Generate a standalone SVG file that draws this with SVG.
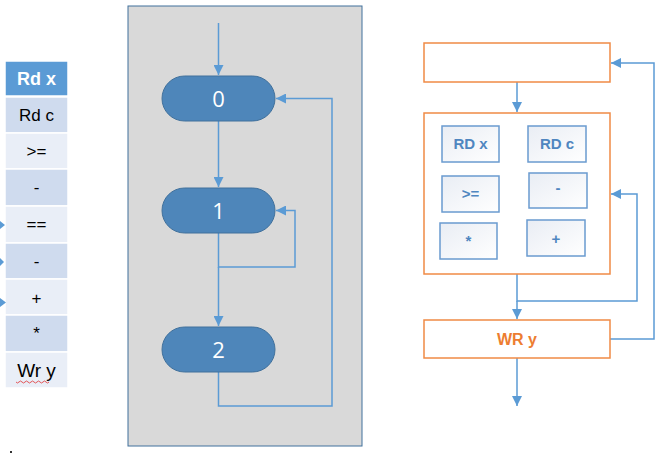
<svg xmlns="http://www.w3.org/2000/svg" width="663" height="454" viewBox="0 0 663 454">
<defs>
<marker id="ah" viewBox="0 0 10 10" refX="10" refY="5" markerWidth="10" markerHeight="10" markerUnits="userSpaceOnUse" orient="auto">
<path d="M0,0 L10,5 L0,10 Z" fill="#5B9BD5"/>
</marker>
<linearGradient id="ig" x1="0" y1="0" x2="1" y2="1">
<stop offset="0" stop-color="#E9EDF4"/>
<stop offset="1" stop-color="#FFFFFF"/>
</linearGradient>
</defs>
<style>
.cell{stroke:#FFFFFF;stroke-width:1.5}
.dk{fill:#CFDBEE}
.lt{fill:#E9EEF7}
.ct{font-family:"Liberation Sans",Arial,sans-serif;font-size:17px;fill:#000;text-anchor:middle}
.pill{fill:#4E86BA;stroke:#41719C;stroke-width:1}
.pt{font-family:"Open Sans","Liberation Sans",sans-serif;font-size:22px;fill:#FFFFFF;text-anchor:middle}
.con{fill:none;stroke:#5B9BD5;stroke-width:1.5}
.ob{fill:#FFFFFF;stroke:#F08A45;stroke-width:1.5}
.ib{fill:url(#ig);stroke:#6A9BCF;stroke-width:1.5}
.it{font-family:"Liberation Sans",Arial,sans-serif;font-size:15px;font-weight:bold;fill:#4F86C0;text-anchor:middle}
</style>
<rect width="663" height="454" fill="#FFFFFF"/>

<g id="table">
<rect class="cell" x="5" y="61" width="63" height="35" fill="#5B9BD5"/>
<text class="ct" x="36.5" y="85" style="fill:#FFFFFF;font-weight:bold;font-size:18px">Rd x</text>
<rect class="cell dk" x="5" y="97" width="63" height="36"/>
<text class="ct" x="36.5" y="121">Rd c</text>
<rect class="cell lt" x="5" y="133" width="63" height="36"/>
<text class="ct" x="36.5" y="157">&gt;=</text>
<rect class="cell dk" x="5" y="169" width="63" height="37"/>
<text class="ct" x="36.5" y="193">-</text>
<rect class="cell lt" x="5" y="206" width="63" height="37"/>
<text class="ct" x="36.5" y="230">==</text>
<rect class="cell dk" x="5" y="243" width="63" height="36"/>
<text class="ct" x="36.5" y="267">-</text>
<rect class="cell lt" x="5" y="279" width="63" height="36"/>
<text class="ct" x="36.5" y="304">+</text>
<rect class="cell dk" x="5" y="315" width="63" height="37"/>
<text class="ct" x="36.5" y="339">*</text>
<rect class="cell lt" x="5" y="352" width="63" height="36"/>
<text class="ct" x="36.5" y="377" style="font-size:19px">Wr y</text>
<path d="M16,382 q1.5,2 3,0 t3,0 t3,0 t3,0 t3,0 t3,0 t3,0 t3,0 t3,0 t3,0 t3,0" fill="none" stroke="#E03030" stroke-width="0.8"/>
</g>
<g id="stubs">
<polygon points="0,221 5,225 0,229" fill="#5B9BD5"/>
<polygon points="0,258 4,262 0,266" fill="#5B9BD5"/>
<polygon points="0,298 6,302.5 0,307" fill="#5B9BD5"/>
<rect x="10" y="451" width="2" height="2" fill="#333"/>
</g>

<g id="panel">
<rect x="128" y="6" width="234" height="440" fill="#D9D9D9" stroke="#41719C" stroke-width="1"/>
</g>

<g id="connectors">
<path class="con" d="M218.5,23 V75" marker-end="url(#ah)"/>
<path class="con" d="M218.5,121 V187" marker-end="url(#ah)"/>
<path class="con" d="M218.5,233 V267 H295 V210.5 H276" marker-end="url(#ah)"/>
<path class="con" d="M218.5,267 V326" marker-end="url(#ah)"/>
<path class="con" d="M218.5,372 V406 H332 V98.5 H276" marker-end="url(#ah)"/>
<path class="con" d="M517,82 V112" marker-end="url(#ah)"/>
<path class="con" d="M517,274 V301 H637 V194 H611" marker-end="url(#ah)"/>
<path class="con" d="M517,301 V319" marker-end="url(#ah)"/>
<path class="con" d="M610,339 H654 V63 H611" marker-end="url(#ah)"/>
<path class="con" d="M517,358 V406" marker-end="url(#ah)"/>
</g>

<g id="s0">
<rect class="pill" x="162" y="76" width="113" height="45" rx="22.5"/>
<text class="pt" x="218.5" y="106.5">0</text>
</g>
<g id="s1">
<rect class="pill" x="162" y="188" width="113" height="45" rx="22.5"/>
<text class="pt" x="218.5" y="218.5">1</text>
</g>
<g id="s2">
<rect class="pill" x="162" y="327" width="113" height="45" rx="22.5"/>
<text class="pt" x="218.5" y="357.5">2</text>
</g>

<g id="topbox">
<rect class="ob" x="424" y="43" width="186" height="39"/>
</g>
<g id="opsbox">
<rect class="ob" x="424" y="113" width="186" height="161"/>
<rect class="ib" x="442" y="126" width="57" height="36"/>
<text class="it" x="470.5" y="149">RD x</text>
<rect class="ib" x="528" y="126" width="58" height="36"/>
<text class="it" x="557" y="149">RD c</text>
<rect class="ib" x="442" y="176" width="57" height="36"/>
<text class="it" x="470.5" y="199">&gt;=</text>
<rect class="ib" x="529" y="173" width="58" height="35"/>
<text class="it" x="558" y="193">-</text>
<rect class="ib" x="440" y="223" width="57" height="36"/>
<text class="it" x="468.5" y="246">*</text>
<rect class="ib" x="527" y="220" width="58" height="36"/>
<text class="it" x="556" y="244">+</text>
</g>
<g id="wrbox">
<rect class="ob" x="424" y="320" width="186" height="38"/>
<text x="517" y="345" text-anchor="middle" font-family="Liberation Sans, Arial, sans-serif" font-size="16" font-weight="bold" fill="#ED7D31">WR y</text>
</g>
</svg>
